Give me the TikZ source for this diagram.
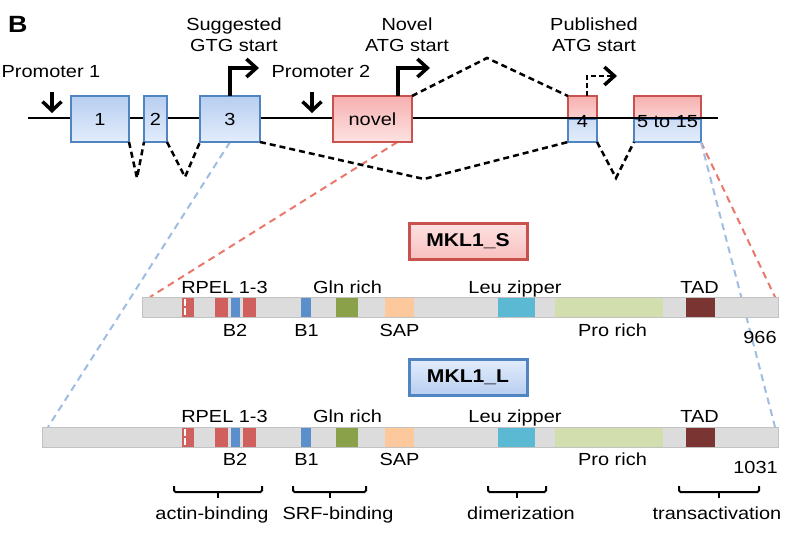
\documentclass[tikz,border=0pt]{standalone}
\usepackage{fontspec}
\setmainfont{Liberation Sans}[FakeStretch=1.14]
\usetikzlibrary{arrows.meta, backgrounds, shadows}
\definecolor{exonblue}{HTML}{5185C2}
\definecolor{exonred}{HTML}{C9524E}
\definecolor{bluetop}{HTML}{B7CEF0}
\definecolor{bluebot}{HTML}{E3EDFC}
\definecolor{redtop}{HTML}{F6B0AF}
\definecolor{redbot}{HTML}{FDE2E2}
\definecolor{projblue}{HTML}{9DBDE2}
\definecolor{projred}{HTML}{E9786B}
\definecolor{bargray}{HTML}{DCDCDC}
\definecolor{barline}{HTML}{C2C2C2}
\definecolor{rpel}{HTML}{D0605D}
\definecolor{bbox}{HTML}{5A8FCB}
\definecolor{gln}{HTML}{8AA14A}
\definecolor{sap}{HTML}{FDC89C}
\definecolor{leu}{HTML}{5BB9D3}
\definecolor{pro}{HTML}{D2DEAE}
\definecolor{tad}{HTML}{7A3431}
\tikzset{
  txt/.style={anchor=base, inner sep=0pt, font=\fontsize{17.5}{21}\selectfont},
  panel/.style={anchor=base west, inner sep=0pt, font=\fontsize{23.5}{26}\selectfont\bfseries},
  exon/.style={line width=2.5pt, minimum height=46pt, inner sep=0pt, outer sep=0pt, font=\fontsize{17.5}{21}\selectfont},
  blueexon/.style={exon, draw=exonblue, top color=bluetop, bottom color=bluebot},
  redexon/.style={exon, draw=exonred, top color=redtop, bottom color=redbot},
  bluehalf/.style={draw=exonblue, line width=2.5pt, top color=bluetop!70, bottom color=bluebot},
  redhalf/.style={draw=exonred, line width=2.5pt, top color=redtop, bottom color=redbot!70!redtop},
  gene/.style={line width=2pt},
  splice/.style={line width=2.5pt, dash pattern=on 6pt off 4pt},
  projb/.style={draw=projblue, line width=2pt, dash pattern=on 7pt off 5pt},
  projr/.style={draw=projred, line width=2pt, dash pattern=on 7pt off 5pt},
  startarr/.style={line width=3.5pt, -{Straight Barb[length=10pt, width=18pt]}},
  startdash/.style={line width=2.5pt, dash pattern=on 5pt off 3pt, -{Straight Barb[length=10pt, width=18pt, line width=3.5pt]}},
  promarr/.style={line width=3.5pt, -{Straight Barb[length=9pt, width=19pt]}},
  isoform/.style={line width=3pt, minimum width=118pt, minimum height=36pt, inner sep=0pt,
    font=\fontsize{18.5}{21}\selectfont\bfseries, drop shadow={shadow xshift=2pt, shadow yshift=-2pt, opacity=0.3}},
  protbar/.style={draw=barline, fill=bargray, line width=1pt, minimum height=20pt, inner sep=0pt, outer sep=0pt},
  brace/.style={line width=2pt, rounded corners=1.5pt}
}
\begin{document}
\begin{tikzpicture}[x=1pt, y=-1pt]
\useasboundingbox (0,0) rectangle (787,539);

\node[panel] (panel) at (8,32) {B};

% exons 4 and 5-15 are shared, half red and half blue
\node[exon, minimum width=29pt] (ex4) at (582.5,119) {};
\node[exon, minimum width=67pt] (ex5) at (667.5,119) {};
\begin{scope}[on background layer]
\foreach \e in {ex4, ex5} {
  \path[redhalf] (\e.north west) rectangle (\e.east);
  \path[bluehalf] (\e.west) rectangle (\e.south east);
}
\end{scope}

% gene
\coordinate (gstart) at (28,118);
\coordinate (gend) at (718,118);
\draw[gene] (gstart) -- (gend);
\node[txt] (lbl4) at (582.5,127) {4};
\node[txt] (lbl5) at (667.5,127) {5 to 15};

\node[blueexon, minimum width=58pt] (ex1) at (100,119) {1};
\node[blueexon, minimum width=23pt] (ex2) at (155.5,119) {2};
\node[blueexon, minimum width=60pt] (ex3) at (230,119) {3};
\node[redexon, minimum width=79pt] (novel) at (372.5,119) {novel};

% promoters and starts
\node[txt] (prom1) at (51,77) {Promoter 1};
\node[txt] (prom2) at (321,77) {Promoter 2};
\coordinate (p1top) at (52,92);
\coordinate (p1tip) at (52,113);
\coordinate (p2top) at (312,92);
\coordinate (p2tip) at (312,113);
\draw[promarr] (p1top) -- (p1tip);
\draw[promarr] (p2top) -- (p2tip);

\node[txt, align=center] (gtg) at (234,51) {Suggested\\GTG start};
\node[txt, align=center] (atgnovel) at (407,51) {Novel\\ATG start};
\node[txt, align=center] (atgpub) at (594,51) {Published\\ATG start};
\coordinate (gtgtip) at (259,68);
\coordinate (novtip) at (430,68);
\coordinate (pubtip) at (617,76);
\draw[startarr] (ex3.north) |- (gtgtip);
\draw[startarr] (novel.42) |- (novtip);
\draw[startdash] (ex4.79) |- (pubtip);

% splicing
\coordinate (s12) at (137,178);
\coordinate (s23) at (185,177);
\coordinate (s34) at (424,179);
\coordinate (sn4) at (487,58);
\coordinate (s45) at (616,178);
\draw[splice] (ex1.south east) -- (s12) -- (ex2.south west);
\draw[splice] (ex2.south east) -- (s23) -- (ex3.south west);
\draw[splice] (ex3.south east) -- (s34) -- (ex4.south west);
\draw[splice] (novel.north east) -- (sn4) -- (ex4.north west);
\draw[splice] (ex4.south east) -- (s45) -- (ex5.south west);

% isoforms
\node[isoform, draw=exonred, top color=redbot, bottom color=redtop!80] (mklS) at (468,241) {MKL1\_S};
\node[isoform, draw=exonblue, top color=bluebot, bottom color=bluetop] (mklL) at (468,377) {MKL1\_L};

\node[protbar, minimum width=636pt] (barS) at (460,307) {};
\node[protbar, minimum width=736pt] (barL) at (410,437) {};

\begin{scope}[on background layer]
\draw[projb] (ex3.south) -- ([xshift=6pt]barL.north west);
\draw[projr] ([xshift=25pt]novel.south) -- ([xshift=8pt]barS.north west);
\draw[projr] (ex5.south east) -- ([xshift=-3pt]barS.north east);
\draw[projb] (ex5.south east) -- ([xshift=-3pt]barL.north east);
\end{scope}

% domains
\foreach \yt in {297,437-10} {
  \fill[rpel] (182,\yt+0.5) rectangle (194,\yt+19.5);
  \fill[white] (183.5,\yt+2) rectangle (185.7,\yt+9);
  \fill[white] (183.5,\yt+11) rectangle (185.7,\yt+18);
  \fill[rpel] (215,\yt+0.5) rectangle (228,\yt+19.5);
  \fill[bbox] (231,\yt+0.5) rectangle (240,\yt+19.5);
  \fill[rpel] (243,\yt+0.5) rectangle (256,\yt+19.5);
  \fill[bbox] (301,\yt+0.5) rectangle (311,\yt+19.5);
  \fill[gln] (336,\yt+0.5) rectangle (358,\yt+19.5);
  \fill[sap] (385,\yt+0.5) rectangle (414,\yt+19.5);
  \fill[leu] (498,\yt+0.5) rectangle (535,\yt+19.5);
  \fill[pro] (555,\yt+0.5) rectangle (663,\yt+19.5);
  \fill[tad] (686,\yt+0.5) rectangle (715,\yt+19.5);
}

\foreach \s/\ya/\yb in {S/293/336, L/422/465} {
  \node[txt] (rpel\s) at (224.5,\ya) {RPEL 1-3};
  \node[txt] (gln\s) at (347.5,\ya) {Gln rich};
  \node[txt] (leu\s) at (515,\ya) {Leu zipper};
  \node[txt] (tad\s) at (699.5,\ya) {TAD};
  \node[txt] (btwo\s) at (235,\yb) {B2};
  \node[txt] (bone\s) at (306.5,\yb) {B1};
  \node[txt] (sap\s) at (399.5,\yb) {SAP};
  \node[txt] (pro\s) at (612.5,\yb) {Pro rich};
}
\node[txt] (lenS) at (760,343) {966};
\node[txt] (lenL) at (755.5,473) {1031};

% functions
\foreach \a/\b/\c/\t in {174/262/212/actin-binding, 293/366/338/SRF-binding,
    488/546/521/dimerization, 679/759/717/transactivation} {
  \draw[brace] (\a,486) -- (\a,492) -- (\b,492) -- (\b,486);
  \draw[line width=2pt] ({(\a+\b)/2},492) -- ({(\a+\b)/2},498);
  \node[txt] (fn\c) at (\c,519) {\t};
}
\end{tikzpicture}
\end{document}
